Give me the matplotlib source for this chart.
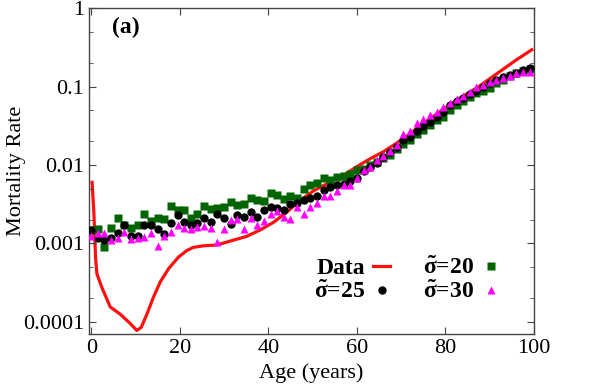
import numpy as np
import matplotlib
matplotlib.use('Agg')
import matplotlib.pyplot as plt
from matplotlib.ticker import LogLocator, NullFormatter

plt.rcParams['font.family'] = ['Liberation Serif', 'DejaVu Serif']
plt.rcParams['mathtext.fontset'] = 'custom'
plt.rcParams['mathtext.rm'] = 'Liberation Serif'
plt.rcParams['mathtext.bf'] = 'Liberation Serif:bold'

# binned model ages (years), one point every 1.5 years
ages = np.arange(0, 100, 1.5)

# log10 of the mortality rate
log_s20 = [-2.83, -2.82, -3.05, -2.80, -2.68, -2.76, -2.80, -2.77, -2.63, -2.72,
           -2.68, -2.69, -2.52, -2.57, -2.58, -2.67, -2.62, -2.52, -2.56, -2.55,
           -2.53, -2.47, -2.51, -2.50, -2.42, -2.44, -2.46, -2.36, -2.38, -2.43,
           -2.39, -2.42, -2.30, -2.25, -2.23, -2.16, -2.19, -2.15, -2.14, -2.11,
           -2.07, -2.05, -2.00, -1.96, -1.91, -1.87, -1.79, -1.73, -1.68, -1.61,
           -1.55, -1.49, -1.43, -1.39, -1.30, -1.23, -1.19, -1.13, -1.08, -1.05,
           -1.02, -0.96, -0.91, -0.87, -0.83, -0.80, -0.77]
log_s25 = [-2.83, -2.93, -2.96, -2.93, -2.87, -2.77, -2.91, -2.90, -2.77, -2.77,
           -2.81, -2.88, -2.74, -2.64, -2.73, -2.76, -2.74, -2.68, -2.73, -2.62,
           -2.68, -2.75, -2.64, -2.66, -2.60, -2.66, -2.57, -2.54, -2.55, -2.58,
           -2.50, -2.48, -2.44, -2.42, -2.39, -2.32, -2.28, -2.26, -2.24, -2.20,
           -2.16, -2.08, -2.03, -1.98, -1.90, -1.84, -1.77, -1.68, -1.64, -1.56,
           -1.50, -1.45, -1.39, -1.33, -1.23, -1.19, -1.14, -1.09, -1.05, -1.00,
           -0.96, -0.92, -0.88, -0.85, -0.83, -0.79, -0.76]
log_s30 = [-2.91, -2.87, -2.87, -2.95, -2.93, -2.86, -2.94, -2.93, -2.92, -2.87,
           -3.03, -2.90, -2.86, -2.77, -2.80, -2.81, -2.79, -2.78, -2.80, -2.98,
           -2.81, -2.70, -2.69, -2.82, -2.67, -2.76, -2.72, -2.62, -2.59, -2.66,
           -2.69, -2.54, -2.62, -2.54, -2.48, -2.40, -2.40, -2.33, -2.26, -2.25,
           -2.16, -2.06, -2.03, -1.93, -1.88, -1.82, -1.75, -1.60, -1.56, -1.47,
           -1.41, -1.36, -1.33, -1.26, -1.21, -1.16, -1.12, -1.07, -1.00, -0.98,
           -0.945, -0.92, -0.89, -0.86, -0.825, -0.81, -0.81]

# empirical data curve
data_age = [0.2, 0.6, 1.0, 1.3, 2.4, 4.3, 6.5, 8.8, 10.3, 11.3, 12.6, 14.1, 15.6,
            17.5, 19.7, 21.6, 23.1, 25.4, 28.4, 31.4, 35.1, 38.1, 41.2, 44.2,
            47.2, 50.2, 53.2, 57, 60, 63, 66, 69, 72, 75, 78, 81, 84, 87, 90,
            93, 96, 99.5]
data_log = [-2.22, -2.60, -3.20, -3.39, -3.56, -3.81, -3.90, -4.02, -4.11, -4.07,
            -3.90, -3.68, -3.49, -3.32, -3.175, -3.09, -3.05, -3.03, -3.02, -2.97,
            -2.91, -2.83, -2.73, -2.60, -2.45, -2.33, -2.24, -2.13, -2.02, -1.92,
            -1.83, -1.72, -1.60, -1.47, -1.35, -1.23, -1.12, -1.02, -0.90, -0.78,
            -0.66, -0.53]

fig = plt.figure(figsize=(5.98, 3.89), dpi=100)
ax = fig.add_axes([0.1488, 0.1414, 0.893 - 0.1488, 0.979 - 0.1414])

hd, = ax.plot(data_age, 10**np.array(data_log), '-', color='#ff1010', lw=2.3, zorder=1)
h20, = ax.plot(ages, 10**np.array(log_s20), 's', ms=5.8, color='#006400', mec='none', zorder=2)
h25, = ax.plot(ages, 10**np.array(log_s25), 'o', ms=6.0, color='black', mec='none', zorder=3)
h30, = ax.plot(ages, 10**np.array(log_s30), '^', ms=5.6, color='#ff00ff', mec='none', zorder=4)

ax.set_yscale('log')
ax.set_xlim(-0.5, 100)
ax.set_ylim(7e-5, 1)
ax.set_xticks([0, 20, 40, 60, 80, 100])
ax.set_yticks([1e-4, 1e-3, 1e-2, 1e-1, 1])
ax.set_yticklabels(['0.0001', '0.001', '0.01', '0.1', '1'])
ax.yaxis.set_minor_locator(LogLocator(base=10, subs=[2, 5]))
ax.yaxis.set_minor_formatter(NullFormatter())
ax.tick_params(which='both', direction='in', top=True, right=True, labelsize=16,
               color='#444444')
ax.tick_params(which='major', length=5)
ax.tick_params(which='minor', length=3)
for s in ax.spines.values():
    s.set_color('#444444')
    s.set_linewidth(1.0)

ax.set_xlabel('Age (years)', fontsize=16, labelpad=4)
ax.set_ylabel('Mortality Rate', fontsize=16, labelpad=-2)
ax.text(0.052, 0.94, '(a)', transform=ax.transAxes, fontsize=17, fontweight='bold',
        ha='left', va='center')

labels = ['Data', r'$\mathbf{\tilde{\sigma}}$=25', r'$\mathbf{\tilde{\sigma}}$=20',
          r'$\mathbf{\tilde{\sigma}}$=30']
leg = ax.legend([hd, h25, h20, h30], labels,
                ncol=2, loc='lower right', bbox_to_anchor=(0.949, 0.058),
                frameon=False, markerfirst=False, handlelength=0.72,
                handletextpad=0.35, columnspacing=1.4, labelspacing=0.05,
                borderpad=0, prop={'weight': 'bold', 'size': 17})

fig.savefig('out.png', dpi=100)
